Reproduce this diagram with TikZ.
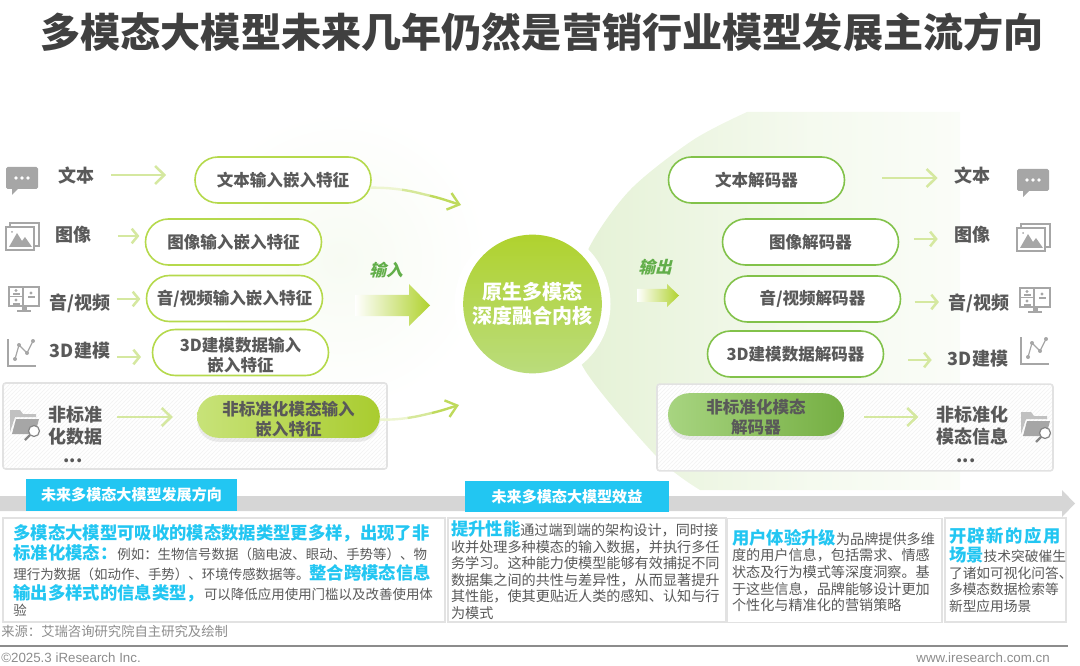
\documentclass[tikz,border=0pt]{standalone}
\usepackage{fontspec}
\setmainfont{Noto Sans CJK SC}
\newfontfamily\latinfont{Liberation Sans}
\newfontfamily\slantfont[FakeSlant=0.25]{Noto Sans CJK SC}
\usetikzlibrary{arrows.meta,positioning,calc,patterns,shapes.misc,shadows}

\definecolor{titlegray}{HTML}{404040}
\definecolor{textgray}{HTML}{595959}
\definecolor{icongray}{HTML}{A6A6A6}
\definecolor{pillgreen}{HTML}{B5D94C}
\definecolor{pillgreenb}{HTML}{82C24A}
\definecolor{pillstrong}{HTML}{A9CC2F}
\definecolor{palearrow}{HTML}{D5E8A0}
\definecolor{hlblue}{HTML}{22C6F2}
\definecolor{panelgray}{HTML}{E2E2E2}
\definecolor{bandgray}{HTML}{D6D6D6}
\definecolor{footgray}{HTML}{8C8C8C}
\definecolor{corelight}{HTML}{BADC7C}
\definecolor{coredark}{HTML}{B0D22E}
\definecolor{haloleft}{HTML}{DCEDC8}
\definecolor{labelgreen}{HTML}{62AE4A}
\definecolor{curvepale}{HTML}{EDF5D0}
\definecolor{curvemid}{HTML}{D6E89A}
\definecolor{curvestrong}{HTML}{BFDA5C}

\colorlet{halotwo}{haloleft!75}
\colorlet{halothree}{haloleft!30}
\pgfdeclarehorizontalshading{halofade}{100bp}{
    color(0bp)=(haloleft); color(25bp)=(halotwo); color(55bp)=(halothree); color(90bp)=(white); color(100bp)=(white)}

\newcommand{\hlA}[1]{{\fontsize{13pt}{15pt}\selectfont\bfseries\color{hlblue}#1}}

\tikzset{
    pilltext/.style={font=\fontsize{12.4pt}{15pt}\selectfont\bfseries, text=textgray, align=center},
    pillA/.style={rounded rectangle, draw=pillgreen, line width=1.2pt, fill=white, inner sep=0pt,
        minimum width=132pt, minimum height=34.5pt, pilltext},
    pillB/.style={pillA, draw=pillgreenb},
    pillC/.style={rounded rectangle, inner sep=0pt, minimum height=32pt, pilltext,
        drop shadow={shadow xshift=0pt, shadow yshift=-3pt, opacity=.18, fill=black!40}},
    modlabel/.style={font=\fontsize{13.5pt}{16.5pt}\selectfont\bfseries, text=textgray, inner sep=0pt, align=center},
    hatchbox/.style={draw=panelgray, line width=1.2pt, rounded corners=2pt,
        preaction={fill=white}, pattern=north east lines, pattern color=black!5},
    panelbox/.style={draw=panelgray, line width=1.3pt, fill=white, inner ysep=0pt, align=left, text=textgray},
    bluetab/.style={fill=hlblue, text=white, inner sep=0pt, font=\fontsize{11.3pt}{14pt}\selectfont\bfseries},
    flowarrow/.style={draw=palearrow, line width=1.9pt, -{Straight Barb[length=7pt,width=13.5pt]}},
    shortarrow/.style={draw=palearrow, line width=1.9pt, -{Straight Barb[length=4.5pt,width=11pt]}},
    curvepart/.style={line width=1.8pt},
    curvearrow/.style={curvepart, draw=curvestrong, -{Straight Barb[length=8pt,width=13pt]}},
    % icons, origin at their top left corner
    bubbleicon/.pic={
        \fill[icongray, rounded corners=1.2pt] (0,0) rectangle (32,22);
        \fill[icongray] (6,21) -- (6,28) -- (13,21) -- cycle;
        \foreach \x in {10,16,22} \fill[white] (\x,11) circle (1.8);
    },
    imageicon/.pic={
        \draw[icongray, line width=0.9pt] (4,4) -- (4,0) -- (33,0) -- (33,23) -- (28,23);
        \draw[icongray, line width=0.9pt] (0,4) rectangle (28,27);
        \fill[icongray] (3,24) -- (11,10) -- (16,18) -- (19,14) -- (26,24) -- cycle;
        \fill[icongray] (6,9) circle (1);
    },
    screenicon/.pic={
        \draw[icongray, line width=0.9pt] (0,0) rectangle (30,19);
        \draw[icongray, line width=0.9pt] (14,0) -- (14,19) (0,9.5) -- (14,9.5);
        \foreach \x/\y in {7/3.5, 7/13, 22/6} {
            \fill[icongray] (\x,\y) circle (1.7);
            \fill[icongray] (\x-3.5,\y+5) rectangle (\x+3.5,\y+3);
        }
        \fill[icongray] (12.5,19) rectangle (17.5,23);
        \fill[icongray] (8,23) rectangle (22,25);
    },
    charticon/.pic={
        \draw[icongray, line width=1.1pt] (0,0) -- (0,27) -- (28,27);
        \draw[icongray, line width=0.9pt] (7,20) -- (11,6) -- (19,14) -- (25,2);
        \foreach \x/\y in {7/20, 11/6, 19/14, 25/2} \fill[icongray] (\x,\y) circle (2);
    },
    foldericon/.pic={
        \fill[icongray!70] (0,22) -- (0,0) -- (10,0) -- (13,4) -- (26,4) -- (26,7) -- (5,7) -- cycle;
        \fill[icongray] (2,24) -- (6,9) -- (29,9) -- (25,24) -- cycle;
        \draw[icongray!80!black, fill=white, line width=0.9pt] (24,21) circle (5.5);
        \draw[icongray!80!black, line width=1.8pt] (20,25) -- (15,30);
    }
}

\begin{document}
\begin{tikzpicture}[x=0.75pt, y=-0.75pt]
    \useasboundingbox (0,0) rectangle (1080,666);

    % Title
    \node[font=\fontsize{30.1pt}{34pt}\selectfont\bfseries, text=titlegray, inner sep=0pt] (mainTitle) at (542,32)
        {多模态大模型未来几年仍然是营销行业模型发展主流方向};

    % Pale background on both sides
    \shade[inner color=haloleft!22, outer color=white] (340,260) circle (150);
    \begin{scope}
        \clip plot[smooth] coordinates {(747,112) (693,140) (630,190) (588,250) (575,310) (583,367) (657,457) (700,490)}
            -- (1000,490) -- (1000,112) -- cycle;
        \shade[shading=halofade] (575,112) rectangle (960,490);
    \end{scope}

    % Frames round the non standard row
    \node[hatchbox, minimum width=288pt, minimum height=64.5pt] (boxIn) at (195,426) {};
    \node[hatchbox, minimum width=297pt, minimum height=65pt] (boxOut) at (855,427.5) {};

    % Core
    \node[circle, fill=white, minimum size=117pt, inner sep=0pt] (coreRing) at (532.5,304) {};
    \node[circle, top color=coredark, bottom color=corelight, minimum size=104pt, inner sep=0pt, text=white,
        align=center, font=\fontsize{15pt}{18pt}\selectfont\bfseries] (coreNode) at (532.5,304)
        {原生多模态\\深度融合内核};

    % Input pills
    \node[pillA] (inText) at (283,180) {文本输入嵌入特征};
    \node[pillA] (inImage) at (233.5,242) {图像输入嵌入特征};
    \node[pillA] (inVideo) at (234.5,298.5) {音/视频输入嵌入特征};
    \node[pillA] (inModel) at (240.5,352.5) {\rule{0pt}{14pt}3D建模数据输入\\嵌入特征};
    \node[pillC, left color=pillgreen!75, right color=pillstrong, minimum width=137pt] (inOther) at (288.5,416.5)
        {\rule{0pt}{14pt}非标准化模态输入\\嵌入特征};

    % Output pills
    \node[pillB] (outText) at (756.5,180) {文本解码器};
    \node[pillB] (outImage) at (810.5,242) {图像解码器};
    \node[pillB] (outVideo) at (812.5,299) {音/视频解码器};
    \node[pillB] (outModel) at (795.5,354) {3D建模数据解码器};
    \node[pillC, left color=pillgreenb!70, right color=pillgreenb!90!black, minimum width=132pt] (outOther) at (756,414.5)
        {\rule{0pt}{14pt}非标准化模态\\解码器};

    % Labels on the left
    \node[modlabel] (lblText) at (76,176) {文本};
    \node[modlabel] (lblImage) at (73,235) {图像};
    \node[modlabel] (lblVideo) at (80,303) {音/视频};
    \node[modlabel] (lblModel) at (80,351) {3D建模};
    \node[modlabel] (lblOther) at (75.5,426) {非标准\\化数据};
    \node[modlabel] (dotsIn) at (73,461) {...};

    % Labels on the right
    \node[modlabel] (resText) at (972,176) {文本};
    \node[modlabel] (resImage) at (972,235) {图像};
    \node[modlabel] (resVideo) at (979,303) {音/视频};
    \node[modlabel] (resModel) at (978,359) {3D建模};
    \node[modlabel] (resOther) at (972,426) {非标准化\\模态信息};
    \node[modlabel] (dotsOut) at (966,461) {...};

    % Icons
    \pic at (6,167) {bubbleicon};
    \pic at (6,223) {imageicon};
    \pic at (9,287) {screenicon};
    \pic at (8,339) {charticon};
    \pic at (10,410) {foldericon};
    \pic at (1017,169) {bubbleicon};
    \pic at (1017,224) {imageicon};
    \pic at (1020,288) {screenicon};
    \pic at (1021,337) {charticon};
    \pic at (1021,412) {foldericon};

    % Arrows into the pills
    \draw[flowarrow, shorten <=12.75pt, shorten >=21pt] ([yshift=0.75pt]lblText.east) -- ([yshift=0.75pt]lblText.east -| inText.west);
    \draw[shortarrow, shorten <=20pt, shorten >=4pt] ([yshift=-0.75pt]lblImage.east) -- ([yshift=-0.75pt]lblImage.east -| inImage.west);
    \draw[shortarrow, shorten <=4.5pt, shorten >=4pt] ([yshift=3pt]lblVideo.east) -- ([yshift=3pt]lblVideo.east -| inVideo.west);
    \draw[shortarrow, shorten <=5pt, shorten >=8pt] ([yshift=-4.5pt]lblModel.east) -- ([yshift=-4.5pt]lblModel.east -| inModel.west);
    \draw[flowarrow, shorten <=11pt, shorten >=18pt] ([yshift=6.75pt]lblOther.east) -- ([yshift=6.75pt]lblOther.east -| inOther.west);

    % Arrows out of the pills
    \draw[flowarrow, shorten <=27.75pt, shorten >=12pt] ([yshift=-1.5pt]outText.east |- resText.west) -- ([yshift=-1.5pt]resText.west);
    \draw[shortarrow, shorten <=11pt, shorten >=12pt] ([yshift=-3pt]outImage.east |- resImage.west) -- ([yshift=-3pt]resImage.west);
    \draw[shortarrow, shorten <=10pt, shorten >=7pt] ([yshift=0.75pt]outVideo.east |- resVideo.west) -- ([yshift=0.75pt]resVideo.west);
    \draw[shortarrow, shorten <=18pt, shorten >=12pt] ([yshift=-0.75pt]outModel.east |- resModel.west) -- ([yshift=-0.75pt]resModel.west);
    \draw[flowarrow, shorten <=15pt, shorten >=13pt] ([yshift=6.75pt]outOther.east |- resOther.west) -- ([yshift=6.75pt]resOther.west);

    % Curved arrows towards the core, paler at their start
    \coordinate (coreUpper) at (461,205);
    \coordinate (coreLower) at (459,405);
    \path (inText.-5) to[out=0, in=163] coordinate[pos=.33] (upperA) coordinate[pos=.66] (upperB) (coreUpper);
    \path (inOther.-2) to[out=0, in=197] coordinate[pos=.33] (lowerA) coordinate[pos=.66] (lowerB) (coreLower);
    \draw[curvepart, draw=curvepale] (inText.-5) to[out=0, in=172] (upperA);
    \draw[curvepart, draw=curvemid] (upperA) to[out=-8, in=167] (upperB);
    \draw[curvearrow] (upperB) to[out=-13, in=163] (coreUpper);
    \draw[curvepart, draw=curvepale] (inOther.-2) to[out=0, in=188] (lowerA);
    \draw[curvepart, draw=curvemid] (lowerA) to[out=8, in=193] (lowerB);
    \draw[curvearrow] (lowerB) to[out=13, in=197] (coreLower);

    % Block arrows
    \shade[left color=white, right color=coredark] (355,295) -- (409,295) -- (409,284) -- (430,305.5) -- (409,326) -- (409,316) -- (355,316) -- cycle;
    \shade[left color=white, right color=coredark] (637,289) -- (667,289) -- (667,284) -- (679,295.5) -- (667,307) -- (667,302) -- (637,302) -- cycle;
    \node[font=\fontsize{12.5pt}{15pt}\slantfont\bfseries, text=labelgreen, inner sep=0pt] (inLabel) at (386,270) {输入};
    \node[font=\fontsize{12.5pt}{15pt}\slantfont\bfseries, text=labelgreen, inner sep=0pt] (outLabel) at (655,267) {输出};

    % Grey band with tabs
    \fill[bandgray] (0,496) -- (1062,496) -- (1062,490) -- (1075,503.5) -- (1062,517) -- (1062,511) -- (0,511) -- cycle;
    \node[bluetab, minimum width=158.25pt, minimum height=24pt] (tabTrend) at (131.5,495) {未来多模态大模型发展方向};
    \node[bluetab, minimum width=153pt, minimum height=23.25pt] (tabGain) at (567,496.5) {未来多模态大模型效益};

    % Panels
    \node[panelbox, text width=316pt, inner xsep=7.5pt, minimum height=78pt,
        font=\fontsize{10.1pt}{15pt}\selectfont] (panelTrend) at (224,570) {%
        \hlA{多模态大模型可吸收的模态数据类型更多样，出现了非}\\
        \hlA{标准化模态：}例如：生物信号数据（脑电波、眼动、手势等）、物\\
        理行为数据（如动作、手势）、环境传感数据等。\hlA{整合跨模态信息}\\
        \hlA{输出多样式的信息类型，}可以降低应用使用门槛以及改善使用体\\[-3pt]
        验};
    \node[panelbox, text width=204pt, inner xsep=2.25pt, minimum height=78pt,
        font=\fontsize{10.6pt}{12.4pt}\selectfont] (panelPerf) at (587,570) {%
        \hlA{提升性能}通过端到端的架构设计，同时接\\
        收并处理多种模态的输入数据，并执行多任\\
        务学习。这种能力使模型能够有效捕捉不同\\
        数据集之间的共性与差异性，从而显著提升\\
        其性能，使其更贴近人类的感知、认知与行\\
        为模式};
    \node[panelbox, text width=153.75pt, inner xsep=3.75pt, minimum height=78pt,
        font=\fontsize{10.6pt}{12.5pt}\selectfont] (panelUser) at (834.5,570.5) {%
        \hlA{用户体验升级}为品牌提供多维\\
        度的用户信息，包括需求、情感\\
        状态及行为模式等深度洞察。基\\
        于这些信息，品牌能够设计更加\\
        个性化与精准化的营销策略};
    \node[panelbox, text width=84.75pt, inner xsep=3pt, minimum height=78pt,
        font=\fontsize{10.3pt}{12.5pt}\selectfont] (panelApp) at (1005.5,570) {%
        \hlA{\makebox[84pt][s]{开\hfill 辟\hfill 新\hfill 的\hfill 应\hfill 用}}\\[2pt]
        \hlA{场景}技术突破催生\\
        了诸如可视化问答、\\
        多模态数据检索等\\
        新型应用场景};

    % Footer
    \node[anchor=west, inner sep=0pt, text=footgray, font=\fontsize{10pt}{12pt}\selectfont] (srcNote) at (1,631)
        {来源：艾瑞咨询研究院自主研究及绘制};
    \coordinate (ruleStart) at (0,646);
    \coordinate (ruleEnd) at (1068,646);
    \draw[footgray, line width=1pt] (ruleStart) -- (ruleEnd);
    \node[anchor=west, inner sep=0pt, text=footgray, font=\fontsize{10pt}{12pt}\latinfont] (footLeft) at (1,658) {©2025.3 iResearch Inc.};
    \node[anchor=east, inner sep=0pt, text=footgray, font=\fontsize{10pt}{12pt}\latinfont] (footRight) at (1050,658) {www.iresearch.com.cn};
\end{tikzpicture}
\end{document}
